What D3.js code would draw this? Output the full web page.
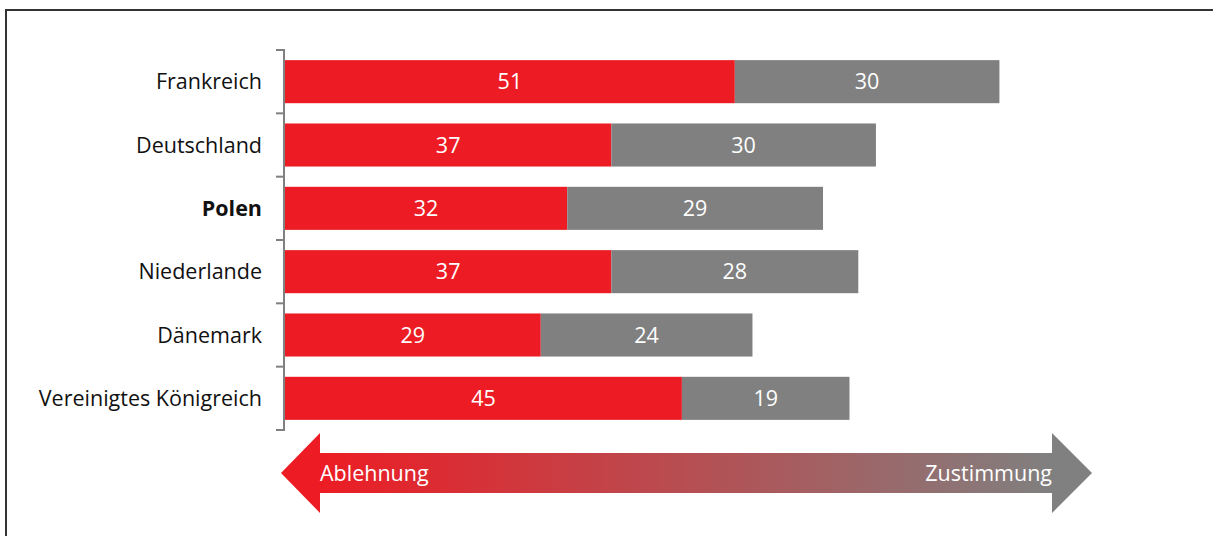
<!DOCTYPE html>
<html>
<head>
<meta charset="utf-8">
<script src="https://cdn.jsdelivr.net/npm/d3@7"></script>
<style>
  body { margin: 0; background: #fff; }
  text { font-family: "Open Sans", "Noto Sans", sans-serif; }
</style>
</head>
<body>
<div id="chart"></div>
<script>
// Data
const countries = ["Frankreich", "Deutschland", "Polen", "Niederlande", "Dänemark", "Vereinigtes Königreich"];
const rejection = [51, 37, 32, 37, 29, 45];
const approval = [30, 30, 29, 28, 24, 19];
const highlighted = ["Polen"];
const arrowLabels = ["Ablehnung", "Zustimmung"];

const width = 1213;
const height = 536;
const red = "#ed1c24";
const grey = "#808080";
const fontSize = 21.5;

const svg = d3.select("#chart")
  .append("svg")
  .attr("width", width)
  .attr("height", height);

// Frame (runs past the right and bottom edge)
svg.append("rect")
  .attr("x", 6)
  .attr("y", 10)
  .attr("width", width + 20)
  .attr("height", height + 20)
  .attr("fill", "none")
  .attr("stroke", "#333")
  .attr("stroke-width", 2);

// Scales
const x = d3.scaleLinear().domain([0, 100]).range([285, 285 + 882]);
const y = d3.scaleBand()
  .domain(countries)
  .range([50, 430])
  .paddingInner(0.32)
  .paddingOuter(0.16);

// Axis line with ticks at the band boundaries
const boundaries = countries.map(c => y(c) - y.step() * y.paddingInner() / 2)
  .concat([430]);
boundaries[0] = 50;
svg.append("line")
  .attr("x1", 284).attr("x2", 284)
  .attr("y1", 50).attr("y2", 430)
  .attr("stroke", grey).attr("stroke-width", 2);
svg.selectAll(".tick")
  .data(boundaries)
  .join("line")
  .attr("class", "tick")
  .attr("x1", 276).attr("x2", 285)
  .attr("y1", d => d).attr("y2", d => d)
  .attr("stroke", grey).attr("stroke-width", 2);

// Country labels
svg.selectAll(".label")
  .data(countries)
  .join("text")
  .attr("class", "label")
  .attr("x", 262)
  .attr("y", d => y(d) + y.bandwidth() / 2)
  .attr("dy", "0.35em")
  .attr("text-anchor", "end")
  .attr("font-size", fontSize)
  .attr("font-weight", d => highlighted.includes(d) ? "bold" : "normal")
  .attr("fill", "#111")
  .text(d => d);

// Bars
const rows = countries.map((c, i) => ({ country: c, rej: rejection[i], app: approval[i] }));

const segments = [];
rows.forEach(r => {
  segments.push({ country: r.country, x0: 0, x1: r.rej, value: r.rej, color: red });
  segments.push({ country: r.country, x0: r.rej, x1: r.rej + r.app, value: r.app, color: grey });
});

svg.selectAll(".bar")
  .data(segments)
  .join("rect")
  .attr("class", "bar")
  .attr("x", d => x(d.x0))
  .attr("y", d => y(d.country))
  .attr("width", d => x(d.x1) - x(d.x0))
  .attr("height", y.bandwidth())
  .attr("fill", d => d.color);

svg.selectAll(".value")
  .data(segments)
  .join("text")
  .attr("class", "value")
  .attr("x", d => (x(d.x0) + x(d.x1)) / 2)
  .attr("y", d => y(d.country) + y.bandwidth() / 2)
  .attr("dy", "0.35em")
  .attr("text-anchor", "middle")
  .attr("font-size", fontSize)
  .attr("fill", "#fff")
  .text(d => d.value);

// Double arrow with gradient
const defs = svg.append("defs");
const grad = defs.append("linearGradient")
  .attr("id", "arrowGrad")
  .attr("gradientUnits", "userSpaceOnUse")
  .attr("x1", 320).attr("x2", 1052)
  .attr("y1", 0).attr("y2", 0);
grad.append("stop").attr("offset", "0%").attr("stop-color", red);
grad.append("stop").attr("offset", "100%").attr("stop-color", grey);

const ay = 473;
svg.append("path")
  .attr("d", [
    "M", 281, ay,
    "L", 320, 433,
    "L", 320, 453,
    "L", 1052, 453,
    "L", 1052, 433,
    "L", 1092, ay,
    "L", 1052, 513,
    "L", 1052, 493,
    "L", 320, 493,
    "L", 320, 513,
    "Z"
  ].join(" "))
  .attr("fill", "url(#arrowGrad)");

svg.append("text")
  .attr("x", 320)
  .attr("y", ay)
  .attr("dy", "0.35em")
  .attr("font-size", fontSize)
  .attr("fill", "#fff")
  .text(arrowLabels[0]);

svg.append("text")
  .attr("x", 1052)
  .attr("y", ay)
  .attr("dy", "0.35em")
  .attr("text-anchor", "end")
  .attr("font-size", fontSize)
  .attr("fill", "#fff")
  .text(arrowLabels[1]);
</script>
</body>
</html>
